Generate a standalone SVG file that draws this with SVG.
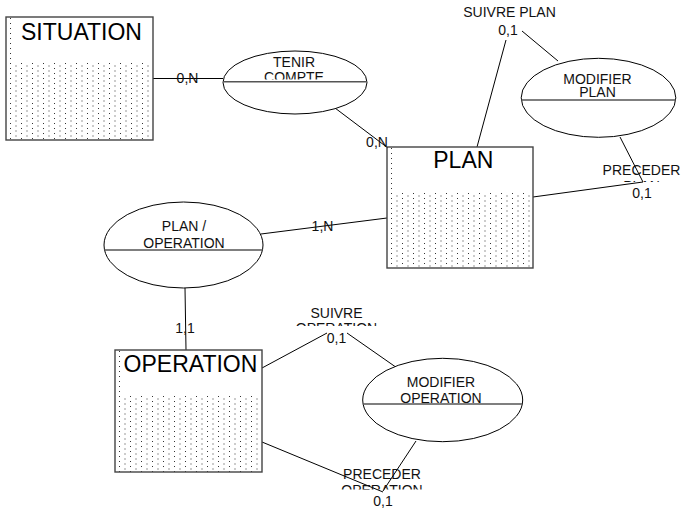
<svg xmlns="http://www.w3.org/2000/svg" width="684" height="513" viewBox="0 0 684 513">
<style>
.lbl{font-family:"Liberation Sans",Arial,sans-serif;font-size:14px;fill:#111;text-anchor:middle}
.ttl{font-family:"Liberation Sans",Arial,sans-serif;font-size:23px;fill:#000;text-anchor:middle}
.conn{stroke:#000;stroke-width:1;fill:none}
.ell{stroke:#000;stroke-width:1;fill:#fff}
.div{stroke:#555;stroke-width:1.5}
.frame{stroke:#444;stroke-width:1.4;fill:none}
</style>
<defs>
<pattern id="dots" patternUnits="userSpaceOnUse" x="0" y="0" width="11" height="5">
<rect x="4" y="1" width="1" height="1" fill="#333"/>
<rect x="9.5" y="3.5" width="1" height="1" fill="#333"/>
</pattern>
<clipPath id="cTenir"><rect x="200" y="40" width="200" height="39.5"/></clipPath>
<clipPath id="cPrecPlan"><rect x="590" y="150" width="94" height="32"/></clipPath>
<clipPath id="cSuivOp"><rect x="280" y="295" width="120" height="31"/></clipPath>
<clipPath id="cPrecOp"><rect x="320" y="460" width="130" height="29.5"/></clipPath>
</defs>
<rect width="684" height="513" fill="#fff"/>

<g id="connectors">
<line class="conn" x1="153" y1="78.5" x2="223" y2="78.5"/>
<line class="conn" x1="335" y1="108" x2="388" y2="148"/>
<line class="conn" x1="477" y1="147" x2="506" y2="40"/>
<line class="conn" x1="522" y1="31" x2="558" y2="61"/>
<line class="conn" x1="620" y1="137" x2="643" y2="182"/>
<line class="conn" x1="533" y1="197" x2="643" y2="182"/>
<line class="conn" x1="261" y1="234" x2="387" y2="218"/>
<line class="conn" x1="185" y1="288" x2="186" y2="350"/>
<line class="conn" x1="262" y1="368" x2="327" y2="333"/>
<line class="conn" x1="347" y1="333" x2="395" y2="366.5"/>
<line class="conn" x1="416" y1="441" x2="383" y2="491"/>
<line class="conn" x1="262" y1="442" x2="383" y2="492"/>
</g>

<g id="labels">
<text class="lbl" x="187.5" y="83.3">0,N</text>
<text class="lbl" x="377" y="147">0,N</text>
<text class="lbl" x="509.5" y="16.7">SUIVRE PLAN</text>
<text class="lbl" x="508" y="35">0,1</text>
<g clip-path="url(#cPrecPlan)">
<text class="lbl" x="641.5" y="175">PRECEDER</text>
<text class="lbl" x="641.5" y="190.5">PLAN</text>
</g>
<text class="lbl" x="642" y="198">0,1</text>
<text class="lbl" x="322.5" y="231">1,N</text>
<text class="lbl" x="185" y="333.3">1,1</text>
<g clip-path="url(#cSuivOp)">
<text class="lbl" x="336.5" y="318.3">SUIVRE</text>
<text class="lbl" x="336.5" y="333.3">OPERATION</text>
</g>
<text class="lbl" x="336.5" y="342.7">0,1</text>
<g clip-path="url(#cPrecOp)">
<text class="lbl" x="382" y="479">PRECEDER</text>
<text class="lbl" x="382" y="494.5">OPERATION</text>
</g>
<text class="lbl" x="383" y="505.7">0,1</text>
</g>

<g id="situation" transform="translate(6,17)">
<rect x="0" y="0" width="147" height="123" fill="url(#dots)"/>
<rect x="6" y="1" width="140" height="45" fill="#fff"/>
<rect class="frame" x="0" y="0" width="147" height="123"/>
<text class="ttl" x="75.5" y="23">SITUATION</text>
</g>

<g id="plan" transform="translate(387,147)">
<rect x="0" y="0" width="146" height="121" fill="url(#dots)"/>
<rect x="6" y="1" width="139" height="44" fill="#fff"/>
<rect class="frame" x="0" y="0" width="146" height="121"/>
<text class="ttl" x="76.3" y="21.3">PLAN</text>
</g>

<g id="operation" transform="translate(115,350)">
<rect x="0" y="0" width="147" height="122" fill="url(#dots)"/>
<rect x="6" y="1" width="140" height="45" fill="#fff"/>
<rect class="frame" x="0" y="0" width="147" height="122"/>
<text class="ttl" x="75.5" y="21.7">OPERATION</text>
</g>

<g id="tenir_compte">
<ellipse class="ell" cx="295" cy="82.5" rx="72" ry="31.5"/>
<line class="div" x1="223" y1="81.7" x2="367" y2="81.7"/>
<g clip-path="url(#cTenir)">
<text class="lbl" x="294" y="67.3">TENIR</text>
<text class="lbl" x="294" y="82.3">COMPTE</text>
</g>
</g>

<g id="modifier_plan">
<ellipse class="ell" cx="598.5" cy="97.8" rx="77.3" ry="39.5"/>
<line class="div" x1="521.3" y1="100" x2="675.7" y2="100"/>
<text class="lbl" x="597.5" y="84">MODIFIER</text>
<text class="lbl" x="597.5" y="97.3">PLAN</text>
</g>

<g id="plan_operation">
<ellipse class="ell" cx="183.5" cy="245" rx="79.5" ry="43"/>
<line class="div" x1="104.5" y1="250" x2="262.5" y2="250"/>
<text class="lbl" x="184" y="230.7">PLAN /</text>
<text class="lbl" x="184" y="247.7">OPERATION</text>
</g>

<g id="modifier_operation">
<ellipse class="ell" cx="442.7" cy="400" rx="80" ry="41.7"/>
<line class="div" x1="363.1" y1="404" x2="522.3" y2="404"/>
<text class="lbl" x="441" y="386.7">MODIFIER</text>
<text class="lbl" x="441" y="402.7">OPERATION</text>
</g>
</svg>
